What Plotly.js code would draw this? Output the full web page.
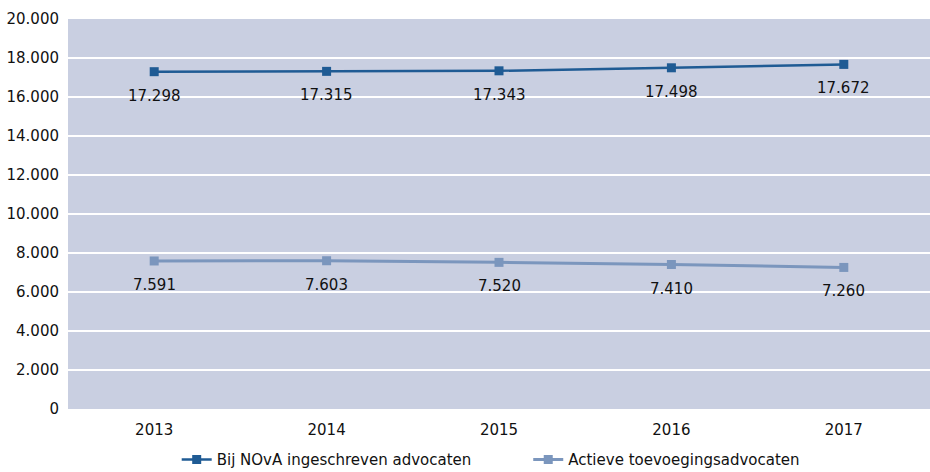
<!DOCTYPE html>
<html><head><meta charset="utf-8">
<script src="https://cdn.plot.ly/plotly-3.0.1.min.js"></script>
<style>html,body{margin:0;padding:0;background:#fff;}</style>
</head><body><div id="chart" style="width:930px;height:472px;"></div>
<script>
const years = ['2013','2014','2015','2016','2017'];
const novaValues = [17298, 17315, 17343, 17498, 17672];
const actieveValues = [7591, 7603, 7520, 7410, 7260];
const seriesNames = ['Bij NOvA ingeschreven advocaten', 'Actieve toevoegingsadvocaten'];
const yTicks = [0, 2000, 4000, 6000, 8000, 10000, 12000, 14000, 16000, 18000, 20000];

function fmt(v){ return String(v).replace(/\B(?=(\d{3})+(?!\d))/g, '.'); }

const darkBlue = '#1f5b94';
const lightBlue = '#7b96bd';
function mkFont(){ return {family: 'DejaVu Sans, Verdana, sans-serif', size: 15, color: '#111111'}; }

const traces = [
  {x: years, y: novaValues, name: seriesNames[0], type: 'scatter', mode: 'lines+markers',
   line: {color: darkBlue, width: 2.5}, marker: {symbol: 'square', size: 9, color: darkBlue},
   legend: 'legend'},
  {x: years, y: actieveValues, name: seriesNames[1], type: 'scatter', mode: 'lines+markers',
   line: {color: lightBlue, width: 3}, marker: {symbol: 'square', size: 9, color: lightBlue},
   legend: 'legend2'}
];

const annotations = [];
[novaValues, actieveValues].forEach(arr => {
  arr.forEach((v, i) => {
    annotations.push({x: i, y: v, xref: 'x', yref: 'y', text: fmt(v), showarrow: false,
      yshift: -24, font: mkFont()});
  });
});

const layout = {
  width: 930, height: 472,
  margin: {l: 68, r: 0, t: 19, b: 63},
  paper_bgcolor: '#ffffff', plot_bgcolor: '#c9cfe1',
  font: mkFont(),
  xaxis: {type: 'category', range: [-0.5, 4.5], showgrid: false, zeroline: false, showline: false,
    ticks: '', tickfont: mkFont(), ticklabelstandoff: 10, automargin: false},
  yaxis: {range: [0, 20000], tickvals: yTicks, ticktext: yTicks.map(fmt), showgrid: true,
    gridcolor: '#ffffff', gridwidth: 2, zeroline: false, showline: false, ticks: '', tickfont: mkFont(),
    ticklabelstandoff: 8, automargin: false},
  showlegend: true,
  legend: {orientation: 'h', xref: 'container', yref: 'container', x: 0.19, xanchor: 'left',
    y: 0.026, yanchor: 'middle', font: mkFont()},
  legend2: {orientation: 'h', xref: 'container', yref: 'container', x: 0.568, xanchor: 'left',
    y: 0.026, yanchor: 'middle', font: mkFont()},
  annotations: annotations
};

Plotly.newPlot('chart', traces, layout, {displayModeBar: false});
</script></body></html>
